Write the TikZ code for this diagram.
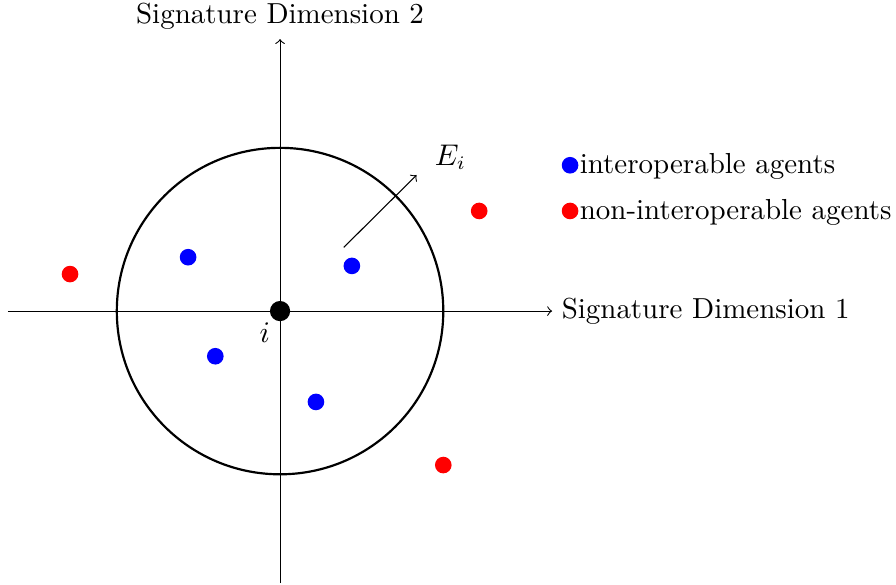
\documentclass[tikz,border=0pt]{standalone}
\begin{document}
\begin{tikzpicture}[scale=0.7,
  every node/.append style={font=\fontsize{10.6pt}{12.7pt}\selectfont},
  agent/.style={circle,fill,inner sep=0pt,minimum size=0.214cm},
  axis/.style={->}]
\useasboundingbox (-5.147,-5.018) rectangle (11.32,5.717);
\coordinate (xl) at (-5,0);
\coordinate (xr) at (5,0);
\coordinate (yb) at (0,-5);
\coordinate (yt) at (0,5);
\draw[axis] (xl) -- (xr) node[right] {Signature Dimension 1};
\draw[axis] (yb) -- (yt) node[above] {Signature Dimension 2};
\node[circle,draw,thick,minimum size=4.2cm,inner sep=0pt] (E) at (0,0) {};
\node[circle,fill=black,inner sep=0pt,minimum size=0.26cm] (o) at (0,0) {};
\node (il) at (-0.28,-0.40) {$i$};
\coordinate (a1) at (1.17,1.17);
\coordinate (a2) at (2.51,2.5);
\draw[->] (a1) -- (a2);
\node (El) at (3.13,2.83) {$E_i$};
% interoperable agents
\node[agent,blue] (b1) at (-1.69,0.99) {};
\node[agent,blue] (b2) at (1.32,0.83) {};
\node[agent,blue] (b3) at (-1.19,-0.83) {};
\node[agent,blue] (b4) at (0.66,-1.67) {};
% non-interoperable agents
\node[agent,red] (r1) at (-3.86,0.68) {};
\node[agent,red] (r2) at (3.66,1.84) {};
\node[agent,red] (r3) at (3.0,-2.83) {};
% legend
\node[agent,blue] (lb) at (5.33,2.68) {};
\node[anchor=west,inner sep=0pt] (lbt) at (5.50,2.66) {interoperable agents};
\node[agent,red] (lr) at (5.33,1.84) {};
\node[anchor=west,inner sep=0pt] (lrt) at (5.50,1.82) {non-interoperable agents};
\end{tikzpicture}
\end{document}
